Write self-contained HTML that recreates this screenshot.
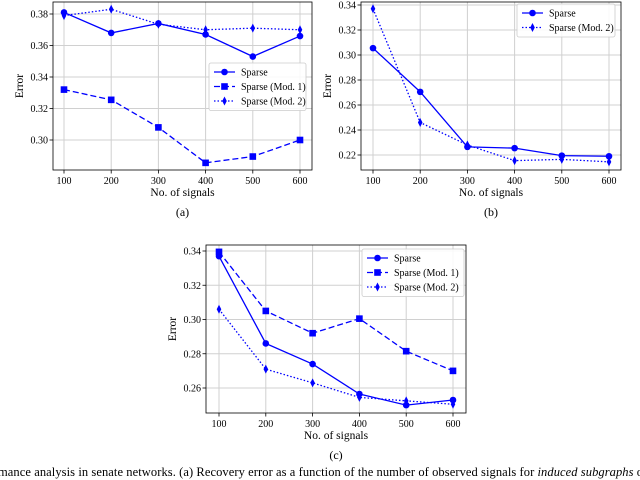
<!DOCTYPE html>
<html><head><meta charset="utf-8"><style>
body{margin:0;background:#fff;width:640px;height:480px;overflow:hidden;font-family:"Liberation Serif",serif}
svg{position:absolute;left:0;top:0}
</style></head><body>
<svg id="s" width="640" height="480">
<text x="-2" y="476" font-size="12.5" textLength="645" lengthAdjust="spacing" font-family="Liberation Serif">mance analysis in senate networks. (a) Recovery error as a function of the number of observed signals for <tspan font-style="italic">induced subgraphs</tspan> o</text>
</svg>
<script>
const categories=[100,200,300,400,500,600];
const aSparse=[0.381,0.368,0.374,0.367,0.353,0.366];
const aMod1=[0.332,0.3255,0.308,0.2855,0.2895,0.300];
const aMod2=[0.379,0.383,0.3735,0.370,0.371,0.370];
const aTicks=[0.30,0.32,0.34,0.36,0.38];
const bSparse=[0.3055,0.2705,0.2265,0.2255,0.2195,0.219];
const bMod2=[0.337,0.246,0.228,0.2155,0.2165,0.2145];
const bTicks=[0.22,0.24,0.26,0.28,0.30,0.32,0.34];
const cSparse=[0.337,0.286,0.274,0.2565,0.250,0.253];
const cMod1=[0.3395,0.305,0.292,0.3005,0.2815,0.270];
const cMod2=[0.306,0.271,0.263,0.2545,0.2525,0.2505];
const cTicks=[0.26,0.28,0.30,0.32,0.34];
const NS='http://www.w3.org/2000/svg';
const svg=document.getElementById('s');
function mk(tag,attrs,parent){const e=document.createElementNS(NS,tag);for(const k in attrs)e.setAttribute(k,attrs[k]);(parent||svg).appendChild(e);return e;}
const styles={sparse:{dash:'',m:'o'},mod1:{dash:'6,3',m:'s'},mod2:{dash:'1.5,2',m:'d'}};
function marker(g,m,x,y){
  if(m==='o')return mk('circle',{cx:x,cy:y,r:3.3,fill:'#0000ff'},g);
  if(m==='s')return mk('rect',{x:x-3.3,y:y-3.3,width:6.6,height:6.6,fill:'#0000ff'},g);
  return mk('polygon',{points:`${x},${y-4.5} ${x+2.3},${y} ${x},${y+4.5} ${x-2.3},${y}`,fill:'#0000ff'},g);
}
function chart(p){
  const g=mk('g',{});
  
  
  const X=v=>p.x100+(v-100)*(p.x600-p.x100)/500;
  const Y=v=>p.yA+(v-p.vA)*(p.yB-p.yA)/(p.vB-p.vA);
  categories.forEach(c=>{const l=mk('line',{x1:X(c),x2:X(c),y1:p.top,y2:p.bot,stroke:'#d0d0d0','stroke-width':1},g);});
  p.ticks.forEach(t=>{const l=mk('line',{x1:p.left,x2:p.right,y1:Y(t),y2:Y(t),stroke:'#d0d0d0','stroke-width':1},g);});
  categories.forEach(c=>{mk('line',{x1:X(c),x2:X(c),y1:p.bot,y2:p.bot+3.5,stroke:'#000','stroke-width':0.8},g);
    const t=mk('text',{x:X(c),y:p.bot+14,'font-size':10,'text-anchor':'middle'},g);t.textContent=c;});
  p.ticks.forEach(v=>{mk('line',{x1:p.left-3.5,x2:p.left,y1:Y(v),y2:Y(v),stroke:'#000','stroke-width':0.8},g);
    const t=mk('text',{x:p.left-5,y:Y(v)+3.5,'font-size':10,'text-anchor':'end'},g);t.textContent=v.toFixed(2);});
  const fr=mk('rect',{x:p.left,y:p.top,width:p.right-p.left,height:p.bot-p.top,fill:'none',stroke:'#000','stroke-width':0.8},g);
  
  p.series.forEach(s=>{
    const st=styles[s.k];
    const pts=s.v.map((v,i)=>X(categories[i])+','+Y(v)).join(' ');
    const pl=mk('polyline',{points:pts,fill:'none',stroke:'#0000ff','stroke-width':1.3,'stroke-dasharray':st.dash},g);
    
    s.v.forEach((v,i)=>{const m=marker(g,st.m,X(categories[i]),Y(v));});
  });
  const xt=mk('text',{x:(p.left+p.right)/2,y:p.bot+26,'font-size':11.5,'text-anchor':'middle'},g);xt.textContent='No. of signals';
  
  const yx=p.left-30,yy=(p.top+p.bot)/2;
  const yt=mk('text',{x:yx,y:yy,'font-size':11.5,'text-anchor':'middle',transform:`rotate(-90 ${yx} ${yy})`},g);yt.textContent='Error';
  
  const cap=mk('text',{x:(p.left+p.right)/2,y:p.bot+46,'font-size':12,'text-anchor':'middle'},g);cap.textContent=p.label;
  
  const L=p.leg;const lg=mk('g',{},g);
  
  mk('rect',{x:L.x,y:L.y,width:L.w,height:p.series.length*14.5+4,rx:2,fill:'#fff','fill-opacity':0.85,stroke:'#ccc','stroke-width':0.8},lg);
  p.series.forEach((s,i)=>{
    const st=styles[s.k];const cy=L.y+9+i*14.5;
    const e=mk('g',{},lg);
    mk('line',{x1:L.x+5,x2:L.x+26,y1:cy,y2:cy,stroke:'#0000ff','stroke-width':1.3,'stroke-dasharray':st.dash},e);
    marker(e,st.m,L.x+15.5,cy);
    const t=mk('text',{x:L.x+32,y:cy+3.5,'font-size':10},e);t.textContent=s.n;
  });
}
chart({name:'chart-a',label:'(a)',left:53,right:312,top:2,bot:170,x100:64,x600:300,vA:0.38,yA:14,vB:0.30,yB:140,ticks:aTicks,
  leg:{x:209,y:63,w:97},series:[{k:'sparse',v:aSparse,n:'Sparse'},{k:'mod1',v:aMod1,n:'Sparse (Mod. 1)'},{k:'mod2',v:aMod2,n:'Sparse (Mod. 2)'}]});
chart({name:'chart-b',label:'(b)',left:361,right:621,top:2,bot:170,x100:373,x600:609,vA:0.34,yA:5,vB:0.22,yB:155,ticks:bTicks,
  leg:{x:517,y:4,w:98},series:[{k:'sparse',v:bSparse,n:'Sparse'},{k:'mod2',v:bMod2,n:'Sparse (Mod. 2)'}]});
chart({name:'chart-c',label:'(c)',left:206,right:466,top:245,bot:413,x100:219,x600:453,vA:0.34,yA:251,vB:0.26,yB:388,ticks:cTicks,
  leg:{x:362,y:249,w:102},series:[{k:'sparse',v:cSparse,n:'Sparse'},{k:'mod1',v:cMod1,n:'Sparse (Mod. 1)'},{k:'mod2',v:cMod2,n:'Sparse (Mod. 2)'}]});
</script>
</body></html>
